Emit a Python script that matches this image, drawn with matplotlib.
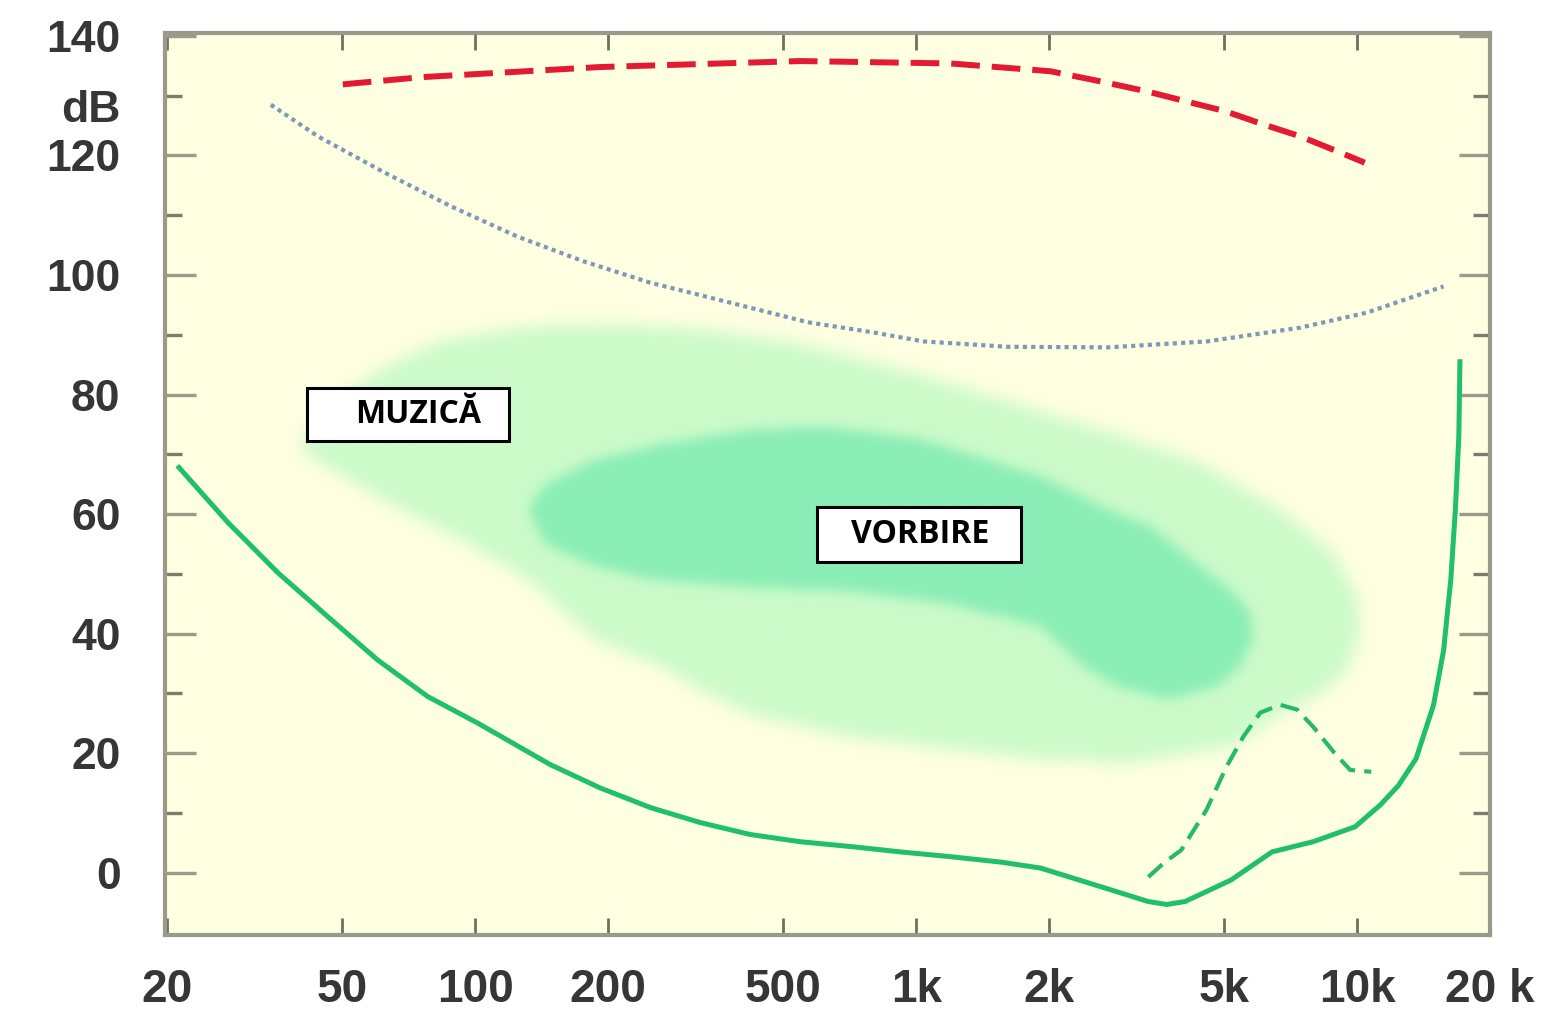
import numpy as np
import matplotlib
matplotlib.use("Agg")
import matplotlib.pyplot as plt
from matplotlib.path import Path
from matplotlib.patches import Rectangle
from matplotlib.ticker import NullLocator

# ---------- data (frequency in Hz, level in dB) ----------
# threshold of hearing (solid green)
threshold_f = [21.3, 27.5, 35.7, 46.4, 60.1, 78, 101, 119, 148, 192, 250, 324, 421,
               546, 709, 920, 1196, 1552, 1913, 2615, 3357, 3700, 4073, 5176, 6412, 7943,
               9890, 11300, 12400, 13600, 14900, 15700, 16300, 16700, 17000, 17100]
threshold_db = [67.8, 58.6, 50.2, 42.8, 35.6, 29.5, 25.1, 22.1, 18.1, 14.2, 10.9, 8.4, 6.4,
                5.2, 4.4, 3.5, 2.7, 1.8, 0.8, -2.3, -4.8, -5.3, -4.8, -1.2, 3.5, 5.2,
                7.7, 11.4, 14.6, 19.1, 28.1, 37.2, 49.0, 60.9, 73.0, 85.5]

# hearing loss curve (dashed green)
loss_f = [3360, 3650, 3990, 4550, 5050, 5520, 6030, 6690, 7310, 7950, 8870, 9640, 10760]
loss_db = [-0.7, 1.7, 3.8, 10.5, 17.7, 22.8, 26.8, 28.1, 27.3, 24.4, 20.1, 17.2, 16.9]

# discomfort limit (dotted blue)
discomfort_f = [34.4, 44, 62.1, 88.1, 125, 176, 250, 355, 568, 800, 1038, 1610, 2713,
                4570, 7430, 10500, 15700]
discomfort_db = [128.5, 123.2, 117.2, 111.5, 106.4, 102.3, 98.7, 95.9, 92.1, 90.4, 88.9,
                 88.0, 87.9, 88.9, 91.2, 93.7, 98.1]

# pain threshold (dashed red)
pain_f = [50.1, 75.4, 192, 547, 1196, 2013, 2618, 3345, 4120, 5025, 6125, 7430, 9010, 10400]
pain_db = [131.9, 133.1, 134.8, 135.8, 135.4, 134.1, 132.4, 130.7, 129.0, 127.4, 125.2,
           123.2, 120.7, 118.8]

# music area outline
music_f = [40.3, 47.1, 61.1, 83.6, 127, 192, 324, 547, 920, 1552, 2617, 4406, 6795, 8827,
           10000, 10200, 9490, 8110, 6795, 5236, 3105, 1913, 1196, 709, 421, 324, 263,
           186, 132, 92.7, 65.3, 47.1, 41.3]
music_db = [72.5, 78.3, 84.2, 88.9, 91.2, 91.7, 90.9, 88.4, 84.2, 79.2, 74.1, 68.6, 60.3,
            53.6, 46.2, 40.7, 33.5, 29.5, 26.8, 21.1, 18.4, 18.9, 20.6, 22.6, 26.4, 30.5,
            34.5, 39.0, 49.0, 55.7, 61.3, 67.4, 70.0]

# speech area outline
speech_f = [132, 144, 183, 263, 421, 640, 1023, 1913, 2617, 3396, 4406, 5236, 5717, 5808,
            5429, 4819, 3710, 2858, 2393, 1913, 1196, 709, 421, 250, 183, 144]
speech_db = [60.8, 64.9, 68.8, 71.6, 74.1, 74.5, 72.5, 66.3, 61.3, 57.9, 51.2, 46.9, 43.5,
             39.0, 34.5, 31.1, 29.0, 31.1, 34.5, 41.2, 44.9, 47.0, 47.7, 49.0, 51.5, 54.9]

x_ticks = [20, 50, 100, 200, 500, 1000, 2000, 5000, 10000, 20000]
x_labels = ["20", "50", "100", "200", "500", "1k", "2k", "5k", "10k", "20 k"]
y_ticks = [0, 20, 40, 60, 80, 100, 120, 140]

BG = "#ffffe2"
SPINE = "#9a9a8a"
TICK_FONT = ["Liberation Sans", "DejaVu Sans"]
TICK_COL = "#363636"


def blurred_mask(ax, fs, dbs, nx, ny, sigma):
    """area outline -> soft-edged mask on an axes-fraction grid"""
    pts = ax.transAxes.inverted().transform(ax.transData.transform(np.column_stack([fs, dbs])))
    gx, gy = np.meshgrid((np.arange(nx) + 0.5) / nx, (np.arange(ny) + 0.5) / ny)
    inside = Path(pts).contains_points(np.column_stack([gx.ravel(), gy.ravel()]))
    m = inside.reshape(ny, nx).astype(float)
    r = int(3 * sigma)
    k = np.exp(-0.5 * (np.arange(-r, r + 1) / sigma) ** 2)
    k /= k.sum()
    m = np.apply_along_axis(lambda v: np.convolve(v, k, mode="same"), 0, m)
    m = np.apply_along_axis(lambda v: np.convolve(v, k, mode="same"), 1, m)
    return m


def color_layer(mask, hexcol):
    rgb = matplotlib.colors.to_rgb(hexcol)
    img = np.zeros(mask.shape + (4,))
    img[..., :3] = rgb
    img[..., 3] = np.clip(mask, 0, 1)
    return img


fig = plt.figure(figsize=(15.48, 10.11), dpi=100)
ax = fig.add_axes([0.1066, 0.0752, 0.8559, 0.8922])
ax.set_facecolor(BG)
ax.set_xscale("log")
ax.set_xlim(19.8, 20000)
ax.set_ylim(-10.4, 140.5)

# shaded areas
nx, ny = 662, 450
m_music = blurred_mask(ax, music_f, music_db, nx, ny, 4.0)
m_speech = blurred_mask(ax, speech_f, speech_db, nx, ny, 3.0)
ax.imshow(color_layer(m_music, "#ccfbca"), extent=(0, 1, 0, 1), transform=ax.transAxes,
          origin="lower", aspect="auto", zorder=1, interpolation="bilinear")
ax.imshow(color_layer(m_speech, "#8aeeb6"), extent=(0, 1, 0, 1), transform=ax.transAxes,
          origin="lower", aspect="auto", zorder=1.5, interpolation="bilinear")

# curves
ax.plot(pain_f, pain_db, color="#e31a32", lw=4.3, linestyle=(0, (4.8, 2.0)),
        solid_capstyle="butt", zorder=3)
ax.plot(discomfort_f, discomfort_db, color="#7f97b8", lw=3.0, linestyle=(0, (1, 1.0)), zorder=3)
ax.plot(threshold_f, threshold_db, color="#1fbf6c", lw=3.6, zorder=3)
ax.plot(loss_f, loss_db, color="#26b86c", lw=3.0, linestyle=(0, (4.5, 2.2)), zorder=3)

# labelled boxes
for (x0, y0, w, h), (tx, ty), txt in [((0.107, 0.548, 0.153, 0.058), (0.191, 0.577), "MUZICĂ"),
                                       ((0.492, 0.414, 0.154, 0.060), (0.570, 0.444), "VORBIRE")]:
    ax.add_patch(Rectangle((x0, y0), w, h, transform=ax.transAxes, facecolor="white",
                           edgecolor="black", lw=2.2, zorder=5))
    ax.text(tx, ty, txt, transform=ax.transAxes, ha="center", va="center", fontsize=23,
            fontweight="bold", family=["Open Sans", "DejaVu Sans"], color="black", zorder=6)

# axes styling
for s in ax.spines.values():
    s.set_color(SPINE)
    s.set_linewidth(3)

ax.set_xticks(x_ticks)
ax.set_xticklabels(x_labels)
ax.xaxis.set_minor_locator(NullLocator())
ax.set_yticks(y_ticks)
ax.set_yticks(np.arange(10, 140, 20), minor=True)

ax.tick_params(axis="x", which="major", direction="in", top=True, bottom=True, length=12,
               width=2, color="#6f6f62", pad=24, labelsize=33, labelcolor=TICK_COL)
ax.tick_params(axis="y", which="major", direction="in", left=True, right=True, length=22,
               width=2.4, color=SPINE, pad=32, labelsize=32, labelcolor=TICK_COL)
ax.tick_params(axis="y", which="minor", direction="in", left=True, right=True, length=12,
               width=2.4, color="#7c7c6e")
for lab in ax.get_xticklabels() + ax.get_yticklabels():
    lab.set_family(TICK_FONT)
    lab.set_fontweight("bold")

ax.annotate("dB", xy=(0, 127.6), xycoords=("axes fraction", "data"), xytext=(-32, 0),
            textcoords="offset points", ha="right", va="center", fontsize=32,
            fontweight="bold", color=TICK_COL, family=TICK_FONT, annotation_clip=False)

fig.savefig("out.png", dpi=100, facecolor="white")
